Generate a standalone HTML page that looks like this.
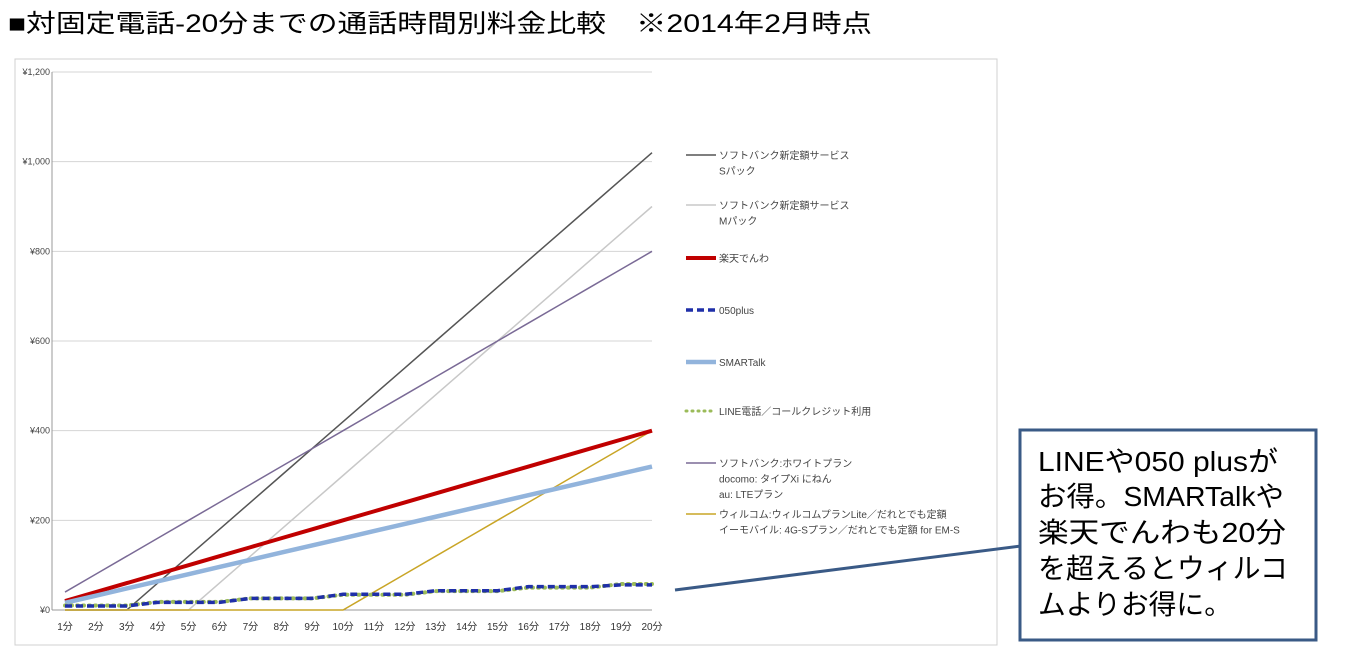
<!DOCTYPE html>
<html><head><meta charset="utf-8"><style>
body{margin:0;width:1354px;height:664px;background:#fff;overflow:hidden;font-family:"Liberation Sans","Noto Sans CJK JP",sans-serif}
svg text{font-family:"Liberation Sans","Noto Sans CJK JP",sans-serif}
</style></head><body>
<svg id="c" width="1354" height="664">
<g font-size="25" fill="#000">
<text x="8" y="32" textLength="598" lengthAdjust="spacingAndGlyphs">■対固定電話-20分までの通話時間別料金比較</text>
<text x="636" y="32" textLength="236" lengthAdjust="spacingAndGlyphs">※2014年2月時点</text>
</g>
<rect x="15" y="59" width="982" height="586" fill="#fff" stroke="#d0d0d0"/>
<g id="grid"></g><g id="series"></g><g id="legend"></g>
<line x1="1021" y1="546" x2="675" y2="590" stroke="#3a5a86" stroke-width="3"/>
<rect x="1020" y="430" width="296" height="210" fill="#fff" stroke="#3a5a86" stroke-width="3"/>
<g font-size="28" fill="#000">
<text x="1038" y="471" textLength="240" lengthAdjust="spacingAndGlyphs">LINEや050 plusが</text>
<text x="1038" y="506" textLength="246" lengthAdjust="spacingAndGlyphs">お得。SMARTalkや</text>
<text x="1038" y="542" textLength="248" lengthAdjust="spacingAndGlyphs">楽天でんわも20分</text>
<text x="1038" y="578" textLength="250" lengthAdjust="spacingAndGlyphs">を超えるとウィルコ</text>
<text x="1038" y="614" textLength="194" lengthAdjust="spacingAndGlyphs">ムよりお得に。</text>
</g>
</svg>
<script>
const minutes=[1,2,3,4,5,6,7,8,9,10,11,12,13,14,15,16,17,18,19,20];
const yTicks=[0,200,400,600,800,1000,1200];
const yTickLabels=["¥0","¥200","¥400","¥600","¥800","¥1,000","¥1,200"];
const sbS=[0,0,0,60,120,180,240,300,360,420,480,540,600,660,720,780,840,900,960,1020];
const sbM=[0,0,0,0,0,60,120,180,240,300,360,420,480,540,600,660,720,780,840,900];
const rakuten=[20,40,60,80,100,120,140,160,180,200,220,240,260,280,300,320,340,360,380,400];
const plus050=[9,9,9,17,17,17,26,26,26,35,35,35,43,43,43,52,52,52,56,56];
const smartalk=[16,32,48,64,80,96,112,128,144,160,176,192,208,224,240,256,272,288,304,320];
const lineCall=[10,10,10,18,18,18,26,26,26,34,34,34,42,42,42,50,50,50,58,58];
const white=[40,80,120,160,200,240,280,320,360,400,440,480,520,560,600,640,680,720,760,800];
const willcom=[0,0,0,0,0,0,0,0,0,0,40,80,120,160,200,240,280,320,360,400];
const NS="http://www.w3.org/2000/svg";
const X=m=>65+(m-1)*(652-65)/19, Y=v=>610-v*(610-72)/1200;
function mk(p,t,a){const e=document.createElementNS(NS,t);for(const k in a)e.setAttribute(k,a[k]);p.appendChild(e);return e;}
const g=document.getElementById('grid');
yTicks.forEach((v,i)=>{
 const l=mk(g,'line',{x1:52,x2:652,y1:Y(v),y2:Y(v),stroke:v===0?'#999':'#d4d4d4'});
 
 
 const t=mk(g,'text',{x:50,y:Y(v)+3,'font-size':9,'text-anchor':'end',fill:'#444'});t.textContent=yTickLabels[i];
 
 
});
mk(g,'line',{x1:52,x2:52,y1:72,y2:610,stroke:'#999'});
minutes.forEach(m=>{
 const t=mk(g,'text',{x:X(m),y:630,'font-size':10,'text-anchor':'middle',fill:'#333'});t.textContent=m+'分';
 
 
});
const series=[
 {d:sbS,c:'#555',w:1.5,n:'softbank-s-pack'},
 {d:sbM,c:'#c8c8c8',w:1.5,n:'softbank-m-pack'},
 {d:white,c:'#7a6a96',w:1.5,n:'white-plan'},
 {d:willcom,c:'#c9a526',w:1.5,n:'willcom'},
 {d:rakuten,c:'#c00000',w:4,n:'rakuten-denwa'},
 {d:smartalk,c:'#92b4dc',w:4.5,n:'smartalk'},
 {d:lineCall,c:'#9bbb59',w:4,n:'line-call',dash:'1 5',cap:'round'},
 {d:plus050,c:'#1f2fa8',w:3.5,n:'050plus',dash:'7 4'}
];
const sg=document.getElementById('series');
series.forEach(s=>{
 const p=mk(sg,'polyline',{points:s.d.map((v,i)=>X(minutes[i])+','+Y(v)).join(' '),fill:'none',stroke:s.c,'stroke-width':s.w});
 if(s.dash)p.setAttribute('stroke-dasharray',s.dash);
 if(s.cap)p.setAttribute('stroke-linecap',s.cap);
 
 
});
const legend=[
 {y:155,c:'#555',w:1.5,t:['ソフトバンク新定額サービス','Sパック'],n:'softbank-s-pack'},
 {y:205,c:'#c8c8c8',w:1.5,t:['ソフトバンク新定額サービス','Mパック'],n:'softbank-m-pack'},
 {y:258,c:'#c00000',w:4,t:['楽天でんわ'],n:'rakuten-denwa'},
 {y:310,c:'#1f2fa8',w:3.5,t:['050plus'],n:'050plus',dash:'7 4'},
 {y:362,c:'#92b4dc',w:4.5,t:['SMARTalk'],n:'smartalk'},
 {y:411,c:'#9bbb59',w:3,t:['LINE電話／コールクレジット利用'],n:'line-call',dash:'1 5',cap:'round'},
 {y:463,c:'#7a6a96',w:1.5,t:['ソフトバンク:ホワイトプラン','docomo: タイプXi にねん','au: LTEプラン'],n:'white-plan'},
 {y:514,c:'#c9a526',w:1.5,t:['ウィルコム:ウィルコムプランLite／だれとでも定額','イーモバイル: 4G-Sプラン／だれとでも定額 for EM-S'],n:'willcom'}
];
const lg=document.getElementById('legend');
legend.forEach(e=>{
 const gg=mk(lg,'g',{});
 
 
 const l=mk(gg,'line',{x1:686,x2:716,y1:e.y,y2:e.y,stroke:e.c,'stroke-width':e.w});
 if(e.dash)l.setAttribute('stroke-dasharray',e.dash);
 if(e.cap)l.setAttribute('stroke-linecap',e.cap);
 e.t.forEach((s,i)=>{const t=mk(gg,'text',{x:719,y:e.y+4+i*15.5,'font-size':10,fill:'#444'});t.textContent=s;});
});
</script>
</body></html>
